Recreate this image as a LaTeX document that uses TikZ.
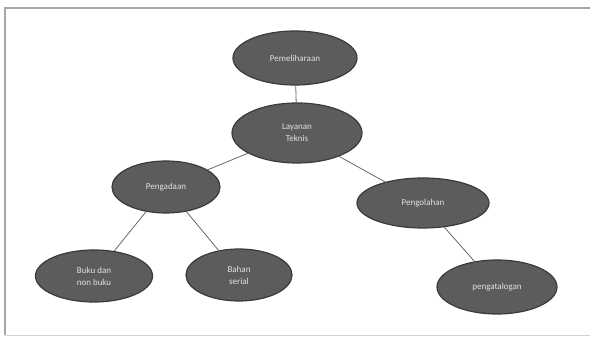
\documentclass[tikz,border=0pt]{standalone}
\usepackage{fontspec}
\setmainfont{Carlito}
\usepackage{xcolor}
\usetikzlibrary{shapes.geometric}
\definecolor{blobfill}{RGB}{92,92,92}
\definecolor{blobline}{RGB}{58,58,58}
\definecolor{blobtext}{RGB}{225,225,225}
\definecolor{linkgray}{RGB}{105,105,105}
\begin{document}
\begin{tikzpicture}[x=1pt, y=1pt,
    bubble/.style={ellipse, draw=blobline, line width=1.2pt, fill=blobfill, text=blobtext,
      inner sep=0pt, align=center, font=\fontsize{9}{12}\selectfont},
    link/.style={draw=linkgray, line width=0.8pt}]
    \useasboundingbox (0,0) rectangle (590,339);

    % Frame
    \draw[gray!70, line width=1.2pt] (590,331) -- (5,331) -- (5,4);
    \draw[gray!35, line width=0.6pt] (5,4) -- (590,4);

    % Top levels
    \node[bubble, minimum width=124, minimum height=54] (pem) at (295,281) {Pemeliharaan};
    \node[bubble, minimum width=130, minimum height=60] (lay) at (297,206) {Layanan\\Teknis};

    % Second level
    \node[bubble, minimum width=108, minimum height=52] (pgd) at (166,152) {Pengadaan};
    \node[bubble, minimum width=132, minimum height=50] (pgl) at (423,136) {Pengolahan};

    % Leaves
    \node[bubble, minimum width=117, minimum height=52] (buku) at (94,63) {Buku dan\\non buku};
    \node[bubble, minimum width=106, minimum height=52] (bahan) at (239,64) {Bahan\\serial};
    \node[bubble, minimum width=120, minimum height=54] (ptl) at (497,52) {pengatalogan};

    % Connectors
    \draw[link] (pem) -- (lay);
    \draw[link] (lay) -- (pgd);
    \draw[link] (lay) -- (pgl);
    \draw[link] (pgd) -- (buku);
    \draw[link] (pgd) -- (bahan);
    \draw[link] (pgl) -- (ptl);
\end{tikzpicture}
\end{document}
